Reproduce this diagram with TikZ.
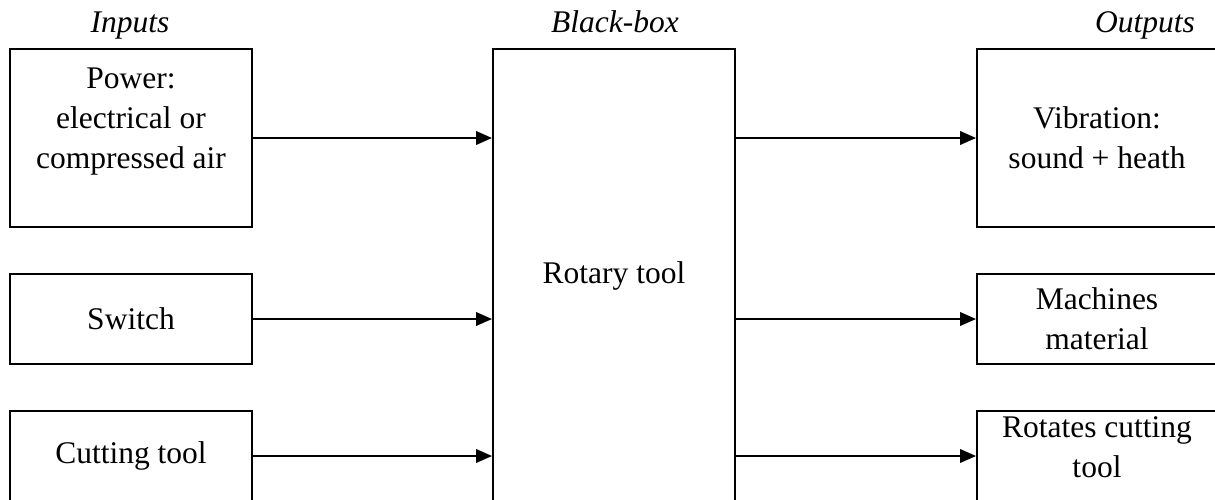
\documentclass[tikz,border=0pt]{standalone}
\usepackage{fontspec}
\setmainfont{Liberation Serif}
\usetikzlibrary{arrows.meta}

% one drawing unit, used for box sizes
\newcommand{\pxu}{0.4444pt}

\tikzset{
  blk/.style={draw, line width=0.9pt, align=center, inner sep=0pt,
    font=\fontsize{14}{17.8}\selectfont},
  flow/.style={-{Triangle[length=7pt,width=6pt]}, line width=0.7pt},
  head/.style={anchor=base, font=\fontsize{14}{17.8}\selectfont\itshape}
}

\begin{document}
\begin{tikzpicture}[x=0.4444pt,y=-0.4444pt]
  \useasboundingbox (0,0) rectangle (1215,500);
  \clip (0,0) rectangle (1215,500);

  % column titles
  \node[head] (tin) at (130,32) {Inputs};
  \node[head] (tbb) at (615,32) {Black-box};
  \node[head] (tout) at (1145,32) {Outputs};

  % inputs
  \node[blk, minimum width=242*\pxu, minimum height=178*\pxu] (pow) at (131,138)
    {Power:\\ electrical or\\ compressed air\\ ~};
  \node[blk, minimum width=242*\pxu, minimum height=90*\pxu] (sw) at (131,319) {Switch};
  \node[blk, minimum width=242*\pxu, minimum height=90*\pxu] (cut) at (131,456) {Cutting tool};

  % the black box
  \node[blk, minimum width=242*\pxu, minimum height=472*\pxu] (rot) at (614,285)
    {Rotary tool\\[-7pt] ~};

  % outputs
  \node[blk, minimum width=240*\pxu, minimum height=178*\pxu] (vib) at (1097,138)
    {Vibration:\\ sound + heath};
  \node[blk, minimum width=240*\pxu, minimum height=90*\pxu] (mach) at (1097,319)
    {Machines\\ material};
  \node[blk, minimum width=240*\pxu, minimum height=90*\pxu] (rct) at (1097,456)
    {Rotates cutting\\ tool\\[-10pt] ~};

  % flows in and out
  \draw[flow] (pow.east) -- (pow.east -| rot.west);
  \draw[flow] (sw.east) -- (sw.east -| rot.west);
  \draw[flow] (cut.east) -- (cut.east -| rot.west);
  \draw[flow] (rot.east |- vib.west) -- (vib.west);
  \draw[flow] (rot.east |- mach.west) -- (mach.west);
  \draw[flow] (rot.east |- rct.west) -- (rct.west);
\end{tikzpicture}
\end{document}
